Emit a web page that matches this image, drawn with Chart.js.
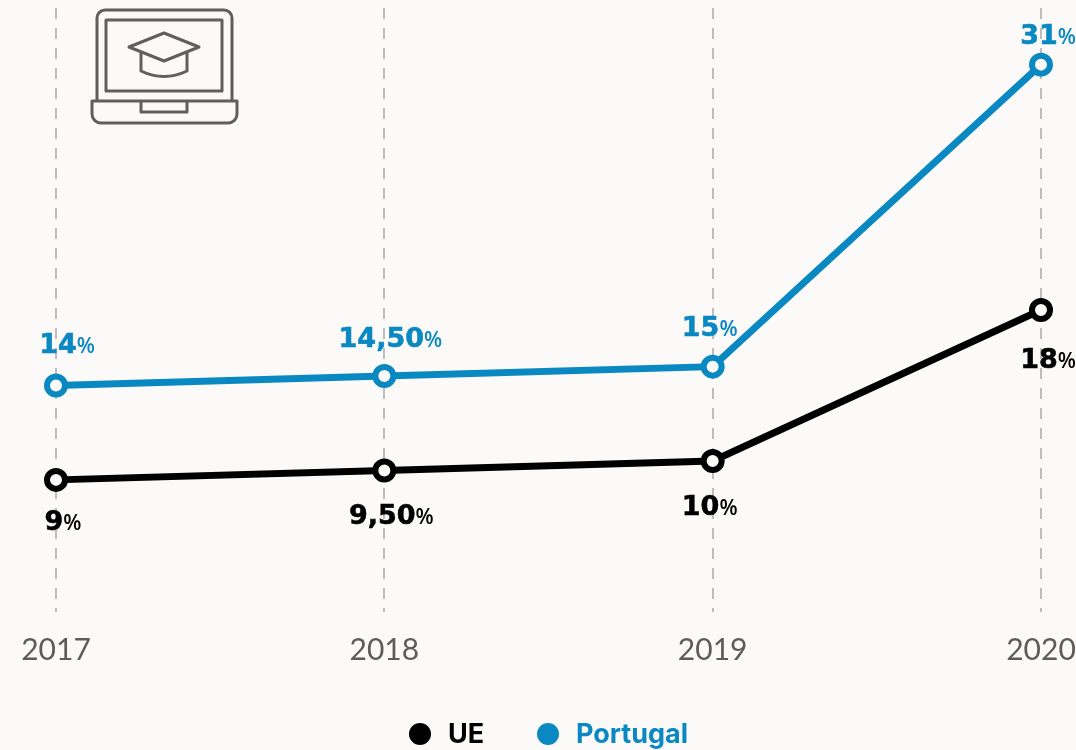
<!DOCTYPE html>
<html><head><meta charset="utf-8">
<style>html,body{margin:0;padding:0;background:#fbfaf8;overflow:hidden}#w{width:1076px;height:750px;position:relative}</style>
<script src="https://cdn.jsdelivr.net/npm/chart.js@4"></script></head>
<body><div id="w"><canvas id="c" width="1076" height="750"></canvas></div>
<script>
const categories = ['2017','2018','2019','2020'];
const ueValues = [9, 9.5, 10, 18];
const portugalValues = [14, 14.5, 15, 31];
const ueLabels = ['9','9,50','10','18'];
const portugalLabels = ['14','14,50','15','31'];
const BLUE='#0a88c2', BLACK='#000000', BG='#fbfaf8';
const labelOffsets = {
  0: [[7,40],[7,44],[-3,44],[7,48]],
  1: [[11,-43],[6,-39],[-3,-41],[7,-31]]
};
const pctLabels = {
  id:'pctLabels',
  afterDatasetsDraw(chart){
    const ctx=chart.ctx;
    [[ueLabels,BLACK],[portugalLabels,BLUE]].forEach(([texts,color],d)=>{
      chart.getDatasetMeta(d).data.forEach((pt,i)=>{
        const big=texts[i], small='%';
        ctx.save();
        ctx.fillStyle=color; ctx.strokeStyle=color; ctx.lineWidth=0.6; ctx.textBaseline='alphabetic'; ctx.textAlign='left';
        const f1='bold 27px "DejaVu Sans"', f2='600 21px "Open Sans"';
        ctx.font=f1; const w1=ctx.measureText(big).width;
        ctx.font=f2; const w2=ctx.measureText(small).width;
        const x=pt.x+labelOffsets[d][i][0]-(w1+w2)/2, y=pt.y+labelOffsets[d][i][1]+10;
        ctx.font=f1; ctx.fillText(big,x,y); ctx.strokeText(big,x,y);
        ctx.font=f2; ctx.fillText(small,x+w1,y);
        ctx.restore();
      });
    });
  }
};
const legendRow = {
  id:'legendRow',
  afterDraw(chart){
    const c=chart.ctx, cx=[420,548], y=734;
    chart.data.datasets.forEach((d,i)=>{
      c.save();
      c.fillStyle=d.borderColor;
      c.beginPath(); c.arc(cx[i],y,11,0,Math.PI*2); c.fill();
      c.font='bold 27px Inter'; c.textBaseline='middle'; c.textAlign='left';
      c.fillText(d.label,cx[i]+28,y+1);
      c.restore();
    });
  }
};
const icon = {
  id:'icon',
  afterDraw(chart){
    const c=chart.ctx; c.save();
    c.strokeStyle='#5f5f5f'; c.lineWidth=3; c.lineJoin='round';
    c.beginPath(); c.moveTo(97,100); c.lineTo(97,18); c.arcTo(97,10,105,10,8); c.lineTo(224,10); c.arcTo(232,10,232,18,8); c.lineTo(232,100); c.stroke();
    c.strokeRect(106,20,116,71);
    c.beginPath(); c.moveTo(92,101); c.lineTo(237,101); c.lineTo(237,114); c.arcTo(237,123,228,123,9); c.lineTo(101,123); c.arcTo(92,123,92,114,9); c.closePath(); c.stroke();
    c.beginPath(); c.moveTo(141,101); c.lineTo(141,112); c.lineTo(187,112); c.lineTo(187,101); c.stroke();
    c.beginPath(); c.moveTo(129,47); c.lineTo(164,33); c.lineTo(199,47); c.lineTo(164,61); c.closePath(); c.stroke();
    c.beginPath(); c.moveTo(141,53); c.lineTo(141,71); c.quadraticCurveTo(164,82,187,71); c.lineTo(187,53); c.stroke();
    c.restore();
  }
};
const common = {tension:0,borderWidth:7,pointRadius:9,pointHoverRadius:9,pointBorderWidth:6,pointBackgroundColor:BG};
new Chart(document.getElementById('c'),{
  type:'line',
  data:{labels:categories,datasets:[
    {label:'UE',data:ueValues,borderColor:BLACK,backgroundColor:BLACK,pointBorderColor:BLACK,...common},
    {label:'Portugal',data:portugalValues,borderColor:BLUE,backgroundColor:BLUE,pointBorderColor:BLUE,...common}
  ]},
  options:{
    responsive:false,animation:false,
    layout:{autoPadding:false,padding:{left:56,right:35,top:8,bottom:62}},
    scales:{
      x:{offset:false,
        afterFit(s){s.paddingLeft=0;s.paddingRight=0;},
        border:{display:false,dash:[11,9]},
        grid:{color:'#bdbdbd',lineWidth:2,drawTicks:false},
        ticks:{color:'#5c5c5c',font:{family:'Lato',size:30,weight:'400'},padding:20,maxRotation:0,autoSkip:false}},
      y:{display:false,min:2,max:34,grid:{display:false}}
    },
    plugins:{legend:{display:false},tooltip:{enabled:false}}
  },
  plugins:[{id:'bg',beforeDraw(ch){ch.ctx.save();ch.ctx.fillStyle=BG;ch.ctx.fillRect(0,0,ch.width,ch.height);ch.ctx.restore();}},pctLabels,legendRow,icon]
});
</script></body></html>
